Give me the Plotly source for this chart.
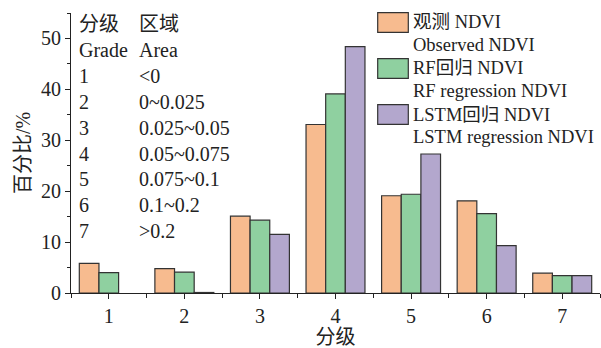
import plotly.graph_objects as go

grades = [1, 2, 3, 4, 5, 6, 7]
grade_labels = ["1", "2", "3", "4", "5", "6", "7"]
observed = [5.8, 4.8, 15.1, 33.1, 19.1, 18.1, 3.9]
rf = [4.0, 4.1, 14.3, 39.1, 19.4, 15.6, 3.4]
lstm = [None, 0.1, 11.5, 48.4, 27.3, 9.3, 3.4]
series_names = [("观测 NDVI", "Observed NDVI"),
                ("RF回归 NDVI", "RF regression NDVI"),
                ("LSTM回归 NDVI", "LSTM regression NDVI")]
colors = ["#F7BB8F", "#8FD0A0", "#B3A7CD"]
area_labels = ["&lt;0", "0~0.025", "0.025~0.05", "0.05~0.075",
               "0.075~0.1", "0.1~0.2", "&gt;0.2"]

FONT = "Liberation Serif, Noto Sans CJK SC, serif"
W, H = 601, 348
ML, MR, MT, MB = 71, 1, 13, 55
PW, PH = W - ML - MR, H - MT - MB

def px(x):
    return (x - ML) / PW

def py(y):
    return (H - MB - y) / PH

fig = go.Figure()
for vals, (n1, n2), c in zip([observed, rf, lstm], series_names, colors):
    fig.add_trace(go.Bar(x=grades, y=vals, name=n1 + " " + n2,
                         marker=dict(color=c, line=dict(color="#333333", width=1.2)),
                         showlegend=False))

annotations = []
shapes = []
# legend (manual)
for i, ((n1, n2), c) in enumerate(zip(series_names, colors)):
    top = 12.7 + i * 46
    shapes.append(dict(type="rect", xref="paper", yref="paper",
                       x0=px(377.7), x1=px(408.3), y0=py(top + 19.6), y1=py(top),
                       fillcolor=c, line=dict(color="#333333", width=1.2)))
    annotations.append(dict(xref="paper", yref="paper", x=px(410.5), y=py(top + 9.8),
                            text=n1, showarrow=False, xanchor="left", yanchor="middle",
                            font=dict(size=18.5, family=FONT, color="#222")))
    annotations.append(dict(xref="paper", yref="paper", x=px(410.5), y=py(top + 32.5),
                            text=n2, showarrow=False, xanchor="left", yanchor="middle",
                            font=dict(size=18.5, family=FONT, color="#222")))

# grade table
rows = [("分级", "区域"), ("Grade", "Area")] + list(zip(grade_labels, area_labels))
for i, (a, b) in enumerate(rows):
    yc = 24 + i * 25.9
    for xx, t in ((76.5, a), (137, b)):
        annotations.append(dict(xref="paper", yref="paper", x=px(xx), y=py(yc),
                                text=t, showarrow=False, xanchor="left", yanchor="middle",
                                font=dict(size=20, family=FONT, color="#222")))

fig.update_layout(
    width=W, height=H,
    margin=dict(l=ML, r=MR, t=MT, b=MB),
    paper_bgcolor="white", plot_bgcolor="white",
    barmode="group", bargap=0.22, bargroupgap=0,
    font=dict(family=FONT, size=20, color="#222"),
    annotations=annotations, shapes=shapes,
    xaxis=dict(range=[0.5, 7.5], tickmode="array", tickvals=grades, ticktext=grade_labels,
               ticks="outside", ticklen=5, tickwidth=1.2, tickcolor="#222",
               minor=dict(tickmode="array", tickvals=[g - 0.5 for g in grades] + [7.5],
                          ticks="outside", ticklen=4, tickwidth=1.2, tickcolor="#222"),
               showline=True, linecolor="#222", linewidth=1.2, showgrid=False, zeroline=False,
               title=dict(text="分级", standoff=6, font=dict(size=20, family=FONT)),
               tickfont=dict(size=20, family=FONT)),
    yaxis=dict(range=[0, 55], tickmode="array", tickvals=[0, 10, 20, 30, 40, 50],
               ticks="outside", ticklen=5, tickwidth=1.2, tickcolor="#222",
               minor=dict(dtick=5, ticks="outside", ticklen=3, tickwidth=1.2, tickcolor="#222"),
               showline=True, linecolor="#222", linewidth=1.2, showgrid=False, zeroline=False,
               title=dict(text="百分比/%", standoff=4, font=dict(size=20, family=FONT)),
               tickfont=dict(size=20, family=FONT)),
)

fig.write_html("out.html")
